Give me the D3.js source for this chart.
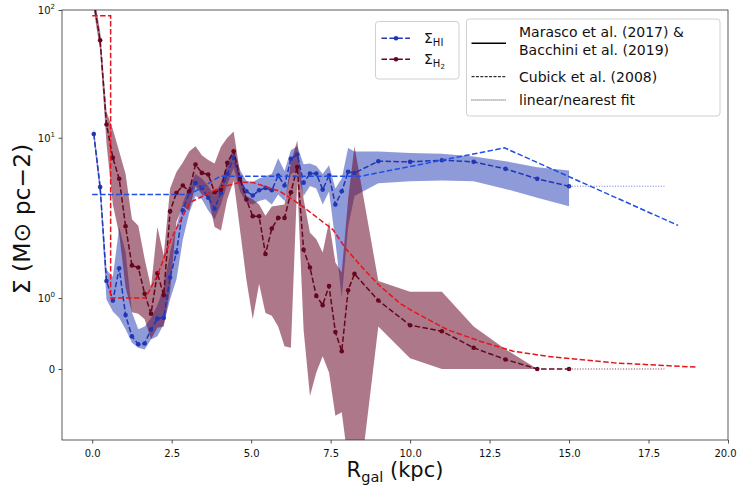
<!DOCTYPE html>
<meta charset="utf-8">
<style>
body{margin:0;background:#fff;}
svg text{font-family:"DejaVu Sans",sans-serif;fill:#111;}
</style>
<svg width="737" height="488"></svg>
<script src="https://cdn.jsdelivr.net/npm/d3@7"></script>
<script>

// radius of each ring (kpc)
var rGal = [0.05,0.25,0.45,0.65,0.85,1.05,1.25,1.45,1.65,1.85,
            2.05,2.25,2.45,2.65,2.85,3.05,3.25,3.45,3.65,3.85,
            4.05,4.25,4.45,4.65,4.85,5.05,5.25,5.45,5.65,5.85,
            6.05,6.25,6.45,6.65,6.85,7.05,7.25,7.45,7.65,7.85,
            8.05,8.25,9,10,11,12,13,14,15];

// Sigma HI, and its band
var sigHI   = [10.7,4.11,1.24,0.965,1.42,0.76,0.46,0.35,0.36,0.556,
               0.71,0.72,1.29,1.645,2.71,3.70,4.44,4.05,3.39,2.79,
               3.70,5.22,7.0,4.6,3.81,3.53,3.88,4.05,3.88,5.06,
               4.23,6.84,7.39,4.44,5.24,5.24,3.93,5.06,3.0,3.81,
               5.41,5.3,6.55,6.48,6.67,6.48,5.71,4.77,4.17];
var sigHIlo = [9.6,3.5,0.98,0.81,0.72,0.56,0.37,0.3,0.275,0.415,
               0.46,0.63,0.98,1.26,1.82,2.58,3.5,3.3,2.7,2.3,
               3.0,4.3,5.8,3.8,3.1,3.0,3.2,3.3,3.0,3.6,
               3.2,5.2,5.5,3.5,4.2,4.0,3.0,3.8,1.8,1.0,
               2.0,3.5,4.4,4.57,4.63,4.57,3.98,3.39,2.91];
var sigHIhi = [12.0,4.6,1.4,1.3,2.0,1.65,0.8,0.56,0.6,0.72,
               0.9,1.15,1.64,2.03,3.1,4.2,5.2,4.8,4.2,3.5,
               4.5,6.2,8.3,5.6,4.6,4.5,4.8,5.0,5.2,6.9,
               5.5,8.0,8.6,6.2,6.3,6.0,5.2,6.1,4.0,4.8,
               8.3,7.8,7.8,7.6,7.5,7.15,6.55,5.87,5.54];

// Sigma H2, and its band
var sigH2   = [115,57.9,12.7,6.96,4.77,2.03,1.46,1.43,1.06,0.78,
               1.35,1.04,2.66,3.70,4.23,3.81,6.17,5.31,5.16,3.74,
               3.93,6.36,7.84,4.77,3.29,2.43,2.43,1.62,1.98,2.36,
               2.36,3.74,5.9,1.68,1.43,1.03,0.90,1.17,0.52,0.25,
               1.11,1.34,0.965,0.617,0.532,0.299,0.134,0,0];
var sigH2lo = [100,48,9.0,3.0,1.9,1.15,0.8,0.78,0.7,0.42,
               0.58,0.6,1.1,2.2,2.9,2.7,4.2,3.6,3.4,2.0,
               1.95,3.3,4.6,1.96,1.26,0.7,1.2,0.79,0.75,0.6,
               0.32,0.3,4.5,0.55,-0.38,-0.05,0.18,-0.05,-0.66,-0.61,
               -1.3,-2.6,0.6,0.15,0,0,0,0,0];
var sigH2hi = [135,68,16,11.6,7.8,5.2,2.3,2.05,1.55,1.15,
               2.0,1.6,4.0,5.4,6.4,7.8,8.6,7.3,6.7,6.3,
               8.5,10,11.2,5.3,3.5,3.3,3.0,2.45,2.9,2.95,
               3.0,6.4,9.5,3.3,1.92,1.83,1.64,2.2,1.5,1.36,
               3.3,8.6,1.24,1.09,1.09,0.6,0.28,0,0];

// Cubick et al. (2008) profiles
var cubHIr = [0,3.07,4.02,8.43,12.97,18.43];
var cubHI  = [3.59,3.59,4.99,4.99,8.34,2.06];
var cubH2r = [0,0.58,0.58,1.68,2.06,2.5,3.07,4.02,4.65,5.06,5.91,6.54,7.57,8.0,8.64,9.06,9.69,10.09,11.16,12.2,13.24,14.3,16.4,19.05];
var cubH2  = [90,90,1.0,1.0,1.33,1.85,3.11,4.07,4.48,4.46,3.81,3.0,1.965,1.683,1.359,1.166,0.922,0.814,0.556,0.392,0.251,0.18,0.087,0.025];

// nearest fit beyond last ring
var fitR = [15,18];

var xTicks = [0,2.5,5,7.5,10,12.5,15,17.5,20];
var yTicks = [0,1,10,100];

var colHI="#2036b4", colH2="#65061f", colCubHI="#1f4ee6", colCubH2="#e8141b";

var svg = d3.select("svg");
var L=62, R=728, T=10, B=440;

var x = d3.scaleLinear().domain([-0.95,20]).range([L,R]);

// matplotlib style symlog, linthresh 2, linscale 1
function symlog(v){
  var lt=2, s=1/(1-0.1), a=Math.abs(v);
  return a<=lt ? v*s : Math.sign(v)*lt*(s+Math.log10(a/lt));
}
var yT = d3.scaleLinear().domain([symlog(-1),symlog(100)]).range([B,T]);
function y(v){ return yT(symlog(v)); }

svg.append("clipPath").attr("id","clip").append("rect")
  .attr("x",L).attr("y",T).attr("width",R-L).attr("height",B-T);

var plot = svg.append("g").attr("clip-path","url(#clip)");

function rows(r,v,lo,hi){
  return r.map(function(d,i){return {r:d,v:v[i],lo:lo?lo[i]:0,hi:hi?hi[i]:0};});
}
var HI = rows(rGal,sigHI,sigHIlo,sigHIhi);
var H2 = rows(rGal,sigH2,sigH2lo,sigH2hi);

var area = d3.area().x(function(d){return x(d.r);})
  .y0(function(d){return y(d.lo);}).y1(function(d){return y(d.hi);});
var line = d3.line().x(function(d){return x(d.r);}).y(function(d){return y(d.v);});

plot.append("path").datum(HI).attr("d",area).attr("fill","#2036b4").attr("fill-opacity",0.5);
plot.append("path").datum(H2).attr("d",area).attr("fill","#6a0a2a").attr("fill-opacity",0.55);

// data lines + markers
[[HI,colHI],[H2,colH2]].forEach(function(s){
  plot.append("path").datum(s[0]).attr("d",line).attr("fill","none")
    .attr("stroke",s[1]).attr("stroke-width",1.5).attr("stroke-dasharray","5.5,2.4");
  plot.append("g").selectAll("circle").data(s[0]).enter().append("circle")
    .attr("cx",function(d){return x(d.r);}).attr("cy",function(d){return y(d.v);})
    .attr("r",2.3).attr("fill",s[1]);
});

// nearest fit extension
var lastHI = sigHI[sigHI.length-1], lastH2 = sigH2[sigH2.length-1];
plot.append("path").datum(fitR.map(function(r){return {r:r,v:lastHI};})).attr("d",line)
  .attr("fill","none").attr("stroke","#6f80d8").attr("stroke-width",1.1).attr("stroke-dasharray","1.1,1.6");
plot.append("path").datum(fitR.map(function(r){return {r:r,v:lastH2};})).attr("d",line)
  .attr("fill","none").attr("stroke","#8a3a52").attr("stroke-width",1.1).attr("stroke-dasharray","1.1,1.6");

// Cubick profiles
plot.append("path").datum(rows(cubHIr,cubHI)).attr("d",line).attr("fill","none")
  .attr("stroke",colCubHI).attr("stroke-width",1.5).attr("stroke-dasharray","5.5,2.4");
plot.append("path").datum(rows(cubH2r,cubH2)).attr("d",line).attr("fill","none")
  .attr("stroke",colCubH2).attr("stroke-width",1.5).attr("stroke-dasharray","5.5,2.4");

// axes
var xAxis = d3.axisBottom(x).tickValues(xTicks).tickFormat(d3.format(".1f")).tickSize(3.5).tickSizeOuter(0);
var gx = svg.append("g").attr("transform","translate(0,"+B+")").call(xAxis);
gx.select(".domain").remove();
gx.selectAll("text").attr("font-size",10).attr("dy","1.05em").style("font-family","DejaVu Sans");
gx.selectAll("text").filter(function(d){return d===20;}).attr("dx",-3);

var yAxis = d3.axisLeft(yT).tickValues(yTicks.map(symlog)).tickSize(3.5).tickSizeOuter(0).tickFormat("");
var gy = svg.append("g").attr("transform","translate("+L+",0)").call(yAxis);
gy.select(".domain").remove();
gy.selectAll(".tick").each(function(d,i){
  var t = d3.select(this).select("text").attr("font-size",10).style("font-family","DejaVu Sans").attr("x",-7).attr("dy","0.35em");
  var v = yTicks[i];
  if(v===0){ t.text("0"); }
  else {
    t.append("tspan").text("10");
    t.append("tspan").attr("font-size",7).attr("dy","-0.75em").text(String(Math.round(Math.log10(v))));
  }
});
svg.selectAll(".tick line").attr("stroke","#222").attr("stroke-width",0.8);

svg.append("rect").attr("x",L).attr("y",T).attr("width",R-L).attr("height",B-T)
  .attr("fill","none").attr("stroke","#333").attr("stroke-width",0.8);

// axis labels
var xl = svg.append("text").attr("x",(L+R)/2).attr("y",477).attr("text-anchor","middle").attr("font-size",21);
xl.append("tspan").text("R");
xl.append("tspan").attr("font-size",14.5).attr("dy",5).text("gal");
xl.append("tspan").attr("dy",-5).text(" (kpc)");

var yl = svg.append("text").attr("transform","translate(30,219) rotate(-90)").attr("text-anchor","middle").attr("font-size",23.5);
yl.text("\u03A3 (M\u2299 pc\u22122)");

// legends
function box(x0,y0,w,h){
  svg.append("rect").attr("x",x0).attr("y",y0).attr("width",w).attr("height",h).attr("rx",3)
    .attr("fill","#fff").attr("fill-opacity",0.8).attr("stroke","#d0d0d0").attr("stroke-width",1);
}
box(375.5,21.5,83.5,57.5);
[[38.3,colHI,"HI"],[59.3,colH2,"H"]].forEach(function(e){
  svg.append("line").attr("x1",381.5).attr("x2",410).attr("y1",e[0]).attr("y2",e[0])
    .attr("stroke",e[1]).attr("stroke-width",1.5).attr("stroke-dasharray","5.5,2.4");
  svg.append("circle").attr("cx",396).attr("cy",e[0]).attr("r",2.3).attr("fill",e[1]);
  var t = svg.append("text").attr("x",424).attr("y",e[0]+5).attr("font-size",14);
  t.append("tspan").text("\u03A3");
  t.append("tspan").attr("font-size",10).attr("dy",3).text(e[2]);
  if(e[2]==="H") t.append("tspan").attr("font-size",7).attr("dy",2).text("2");
});

box(466.5,19,253.5,97);
var leg2 = [
  {y:43.3,dash:null,lw:1.5},
  {y:76.7,dash:"3,1.4",lw:1},
  {y:100,dash:"0.9,1.1",lw:0.9}
];
leg2.forEach(function(e){
  svg.append("line").attr("x1",471.5).attr("x2",506).attr("y1",e.y).attr("y2",e.y)
    .attr("stroke","#000").attr("stroke-width",e.lw).attr("stroke-dasharray",e.dash);
});
[["Marasco et al. (2017) &",31.7],["Bacchini et al. (2019)",50],["Cubick et al. (2008)",76.7],["linear/nearest fit",100]]
  .forEach(function(e){
    svg.append("text").attr("x",519).attr("y",e[1]+5).attr("font-size",14).text(e[0]);
  });

</script>
